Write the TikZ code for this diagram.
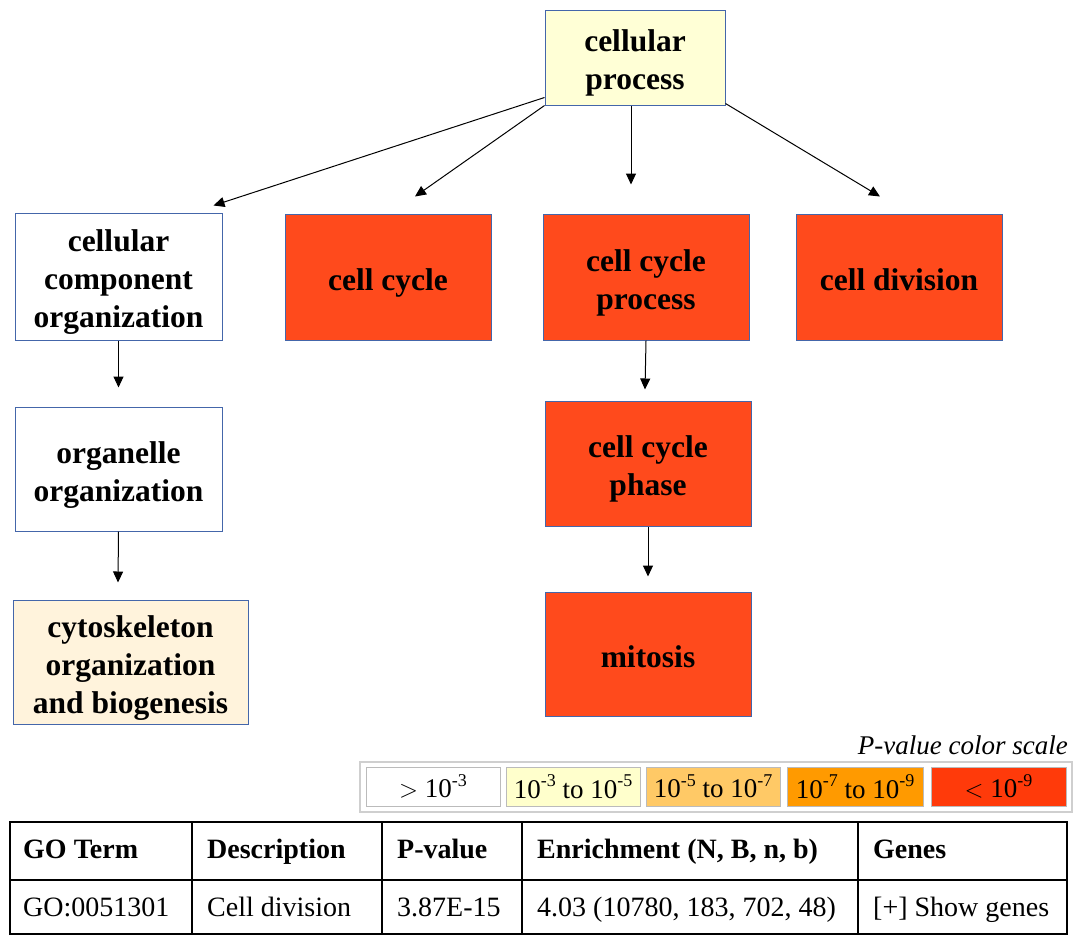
\documentclass[tikz,border=0pt]{standalone}
\usepackage{fontspec}
\setmainfont{Liberation Serif}
\usetikzlibrary{arrows.meta,calc}
\definecolor{boxblue}{HTML}{4466AA}
\definecolor{cpyellow}{HTML}{FFFFD6}
\definecolor{hotred}{HTML}{FF4A1C}
\definecolor{cytobg}{HTML}{FFF3DC}
\definecolor{lg1}{HTML}{FFFFFF}
\definecolor{lg2}{HTML}{FFFFCC}
\definecolor{lg3}{HTML}{FFC966}
\definecolor{lg4}{HTML}{FF9A00}
\definecolor{lg5}{HTML}{FF3A0A}
\definecolor{lgborder}{HTML}{BBBBBB}
\newcommand{\pw}[1]{10\raisebox{0.42em}{\fontsize{18}{18}\selectfont #1}}
\newcommand{\tst}{\rule{0pt}{33pt}}
\newcommand{\bst}{\rule[-7pt]{0pt}{7pt}}
\begin{document}
\begin{tikzpicture}[x=1pt,y=-1pt,
  goterm/.style={draw=boxblue,line width=1pt,align=center,inner sep=0pt,
    font=\fontsize{31.5}{38}\selectfont\bfseries},
  arr/.style={line width=1pt,-{Triangle[length=11pt,width=10pt]}},
  lgcell/.style={draw=lgborder,line width=1pt,minimum height=39pt,inner sep=0pt,
    font=\fontsize{27}{30}\selectfont},
  tbl/.style={anchor=base west,inner sep=0pt,font=\fontsize{28}{32}\selectfont},
  tblh/.style={tbl,font=\fontsize{28}{32}\selectfont\bfseries}]
\useasboundingbox (0,0) rectangle (1075,935);
% GO graph
\node[goterm,fill=cpyellow,minimum width=180pt,minimum height=95pt] (cp) at (635,57.5) {\tst cellular\\process\bst};
\node[goterm,fill=white,minimum width=207pt,minimum height=127pt] (cco) at (118.5,276.5) {\tst cellular\\component\\organization\bst};
\node[goterm,fill=hotred,minimum width=206pt,minimum height=126pt] (cc) at (388,277) {\tst cell cycle\bst};
\node[goterm,fill=hotred,minimum width=206pt,minimum height=126pt] (ccp) at (646,277) {\tst cell cycle\\process\bst};
\node[goterm,fill=hotred,minimum width=206pt,minimum height=126pt] (cd) at (899,277) {\tst cell division\bst};
\node[goterm,fill=white,minimum width=207pt,minimum height=124pt] (oo) at (118.5,469) {\tst organelle\\organization\bst};
\node[goterm,fill=cytobg,minimum width=235pt,minimum height=124pt] (cyto) at (130.5,662) {\tst cytoskeleton\\organization\\and biogenesis\bst};
\node[goterm,fill=hotred,minimum width=206pt,minimum height=125pt] (ccph) at (648,463.5) {\tst cell cycle\\phase\bst};
\node[goterm,fill=hotred,minimum width=206pt,minimum height=124pt] (mit) at (648,654) {\tst mitosis\bst};
% connectors
\draw[arr] ([yshift=8pt]cp.south west) -- ([xshift=-9pt,yshift=7pt]cco.north east);
\draw[arr] (cp.south west) -- ([xshift=27pt,yshift=17pt]cc.north);
\draw[arr] ([xshift=-4pt]cp.south) -- ([xshift=-15pt,yshift=29pt]ccp.north);
\draw[arr] ([yshift=2pt]cp.south east) -- ([xshift=-19pt,yshift=17pt]cd.north);
\draw[arr] (cco.south) -- ([yshift=19pt]oo.north);
\draw[arr] (oo.south) -- ([xshift=-12.5pt,yshift=17pt]cyto.north);
\draw[arr] (ccp.south) -- ([xshift=-3pt,yshift=11pt]ccph.north);
\draw[arr] (ccph.south) -- ([yshift=15pt]mit.north);
% legend
\node[anchor=east,inner sep=0pt,font=\fontsize{27}{30}\selectfont\itshape] (lgtitle) at (1068,745) {P-value color scale};
\draw[lgborder!70,line width=1.5pt] (360,762) rectangle (1072,812);
\node[lgcell,fill=lg1,minimum width=134pt] (l1) at (433,786.5) {$>$ \pw{-3}};
\node[lgcell,fill=lg2,minimum width=134pt] (l2) at (573,786.5) {\pw{-3} to \pw{-5}};
\node[lgcell,fill=lg3,minimum width=134pt] (l3) at (713,786.5) {\pw{-5} to \pw{-7}};
\node[lgcell,fill=lg4,minimum width=136pt] (l4) at (855,786.5) {\pw{-7} to \pw{-9}};
\node[lgcell,fill=lg5,minimum width=135pt] (l5) at (998.5,786.5) {$<$ \pw{-9}};
% table
\draw[line width=1.3pt] (10,935) -- (10,822) -- (1067,822) -- (1067,935);
\draw[line width=1.3pt] (10,880) -- (1067,880);
\draw[line width=1.3pt] (10,934) -- (1067,934);
\foreach \xx in {192,382,522,858} \draw[line width=1.3pt] (\xx,822) -- (\xx,935);
\node[tblh] (h1) at (23,858) {GO Term};
\node[tblh] (h2) at (207,858) {Description};
\node[tblh] (h3) at (397,858) {P-value};
\node[tblh] (h4) at (537,858) {Enrichment (N, B, n, b)};
\node[tblh] (h5) at (873,858) {Genes};
\node[tbl] (r1) at (23,916) {GO:0051301};
\node[tbl] (r2) at (207,916) {Cell division};
\node[tbl] (r3) at (397,916) {3.87E-15};
\node[tbl] (r4) at (537,916) {4.03 (10780, 183, 702, 48)};
\node[tbl] (r5) at (873,916) {[+] Show genes};
\end{tikzpicture}
\end{document}
